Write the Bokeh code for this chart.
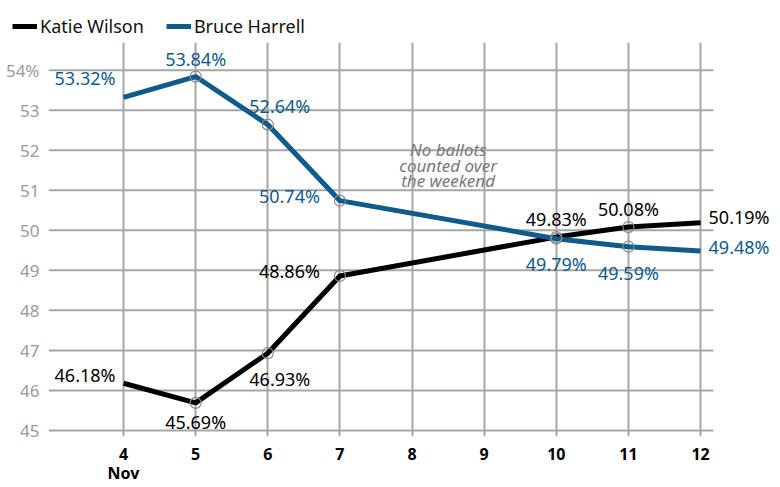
from bokeh.plotting import figure
from bokeh.layouts import column
from bokeh.models import (ColumnDataSource, Range1d, FixedTicker, Legend, LegendItem)
from bokeh.core.properties import value
from bokeh.embed import file_html
from bokeh.resources import INLINE

# ---- data ----
days = [4, 5, 6, 7, 10, 11, 12]
wilson = [46.18, 45.69, 46.93, 48.86, 49.83, 50.08, 50.19]
harrell = [53.32, 53.84, 52.64, 50.74, 49.79, 49.59, 49.48]
x_ticks = [4, 5, 6, 7, 8, 9, 10, 11, 12]
y_ticks = [45, 46, 47, 48, 49, 50, 51, 52, 53, 54]
month_label = "Nov"
names = ["Katie Wilson", "Bruce Harrell"]
note = "No ballots\ncounted over\nthe weekend"
note_pos = (8.5, 51.63)
marked = [5, 6, 7, 10, 11]

# ---- layout / label placement (style) ----
X_LO, X_GRID_HI, X_HI = 2.96, 12.18, 12.97
Y_LO, Y_HI = 44.85, 54.69
w_dx = [-8, 0, 12, -20, 0, 0, 8]
w_dy = [-8, 19, 26, -5, -18, -18, -6]
w_al = ["right", "center", "center", "right", "center", "center", "left"]
h_dx = [-8, 0, 12, -20, 0, 0, 8]
h_dy = [-19, -18, -19, -5, 25, 26, -4]
h_al = ["right", "center", "center", "right", "center", "center", "left"]

BLUE = "#0f5b8c"
GRID = "#a6a6a6"
FONT = "Noto Sans"
W = 776
LEG_H = 38

p = figure(width=W, height=449, output_backend="svg", toolbar_location=None,
           x_range=Range1d(X_LO, X_HI), y_range=Range1d(Y_LO, Y_HI),
           min_border_left=48, min_border_right=6, min_border_top=4,
           min_border_bottom=47)
p.frame_align = False
p.outline_line_color = None
p.background_fill_color = "white"

# grids
p.xgrid.grid_line_color = GRID
p.xgrid.grid_line_width = 2
p.xgrid.ticker = FixedTicker(ticks=x_ticks)
p.ygrid.grid_line_color = None
# horizontal grid lines stop just past the last day
p.segment(x0=[X_LO] * len(y_ticks), x1=[X_GRID_HI] * len(y_ticks),
          y0=y_ticks, y1=y_ticks, line_color=GRID, line_width=2)

# axes
p.xaxis.ticker = FixedTicker(ticks=x_ticks)
p.xaxis.major_label_overrides = {4: "4\n" + month_label}
p.xaxis.axis_line_color = None
p.xaxis.major_tick_line_color = None
p.xaxis.minor_tick_line_color = None
p.xaxis.major_label_text_font = FONT
p.xaxis.major_label_text_font_style = "bold"
p.xaxis.major_label_text_font_size = "16px"
p.xaxis.major_label_text_line_height = 0.9
p.xaxis.major_label_text_color = "black"
p.xaxis.major_label_standoff = 0

p.yaxis.ticker = FixedTicker(ticks=y_ticks)
p.yaxis.major_label_overrides = {54: "54%"}
p.yaxis.axis_line_color = None
p.yaxis.major_tick_line_color = None
p.yaxis.minor_tick_line_color = None
p.yaxis.major_label_text_font = FONT
p.yaxis.major_label_text_font_size = "17px"
p.yaxis.major_label_text_color = "#9a9a9a"
p.yaxis.major_label_standoff = 3

# lines
p.line(days, wilson, line_color="black", line_width=5, line_join="round")
p.line(days, harrell, line_color=BLUE, line_width=5, line_join="round")

# markers
mx = [d for d in days if d in marked]
mw = [v for d, v in zip(days, wilson) if d in marked]
mh = [v for d, v in zip(days, harrell) if d in marked]
p.scatter(mx + mx, mw + mh, size=11, fill_color=None, line_color="#8a8a8a", line_width=1.2)

# labels
def fmt(v):
    return f"{v:.2f}%"

src_w = ColumnDataSource(dict(x=days, y=wilson, t=[fmt(v) for v in wilson],
                              dx=w_dx, dy=w_dy, al=w_al))
src_h = ColumnDataSource(dict(x=days, y=harrell, t=[fmt(v) for v in harrell],
                              dx=h_dx, dy=h_dy, al=h_al))
p.text(x="x", y="y", text="t", x_offset="dx", y_offset="dy", text_align="al",
       text_baseline="middle", text_font=value(FONT), text_font_size="18px",
       text_color="black", source=src_w)
p.text(x="x", y="y", text="t", x_offset="dx", y_offset="dy", text_align="al",
       text_baseline="middle", text_font=value(FONT), text_font_size="18px",
       text_color=BLUE, source=src_h)

# annotation
p.text(x=[note_pos[0]], y=[note_pos[1]], text=[note], text_align="center",
       text_baseline="middle", text_font=value(FONT), text_font_style="italic",
       text_font_size="17px", text_color="#7a7a7a", text_line_height=0.66)

# legend strip above the chart (key lines lie outside its visible range)
lf = figure(width=W, height=LEG_H, output_backend="svg", toolbar_location=None,
            x_range=Range1d(0, 1), y_range=Range1d(0, 1),
            x_axis_location=None, y_axis_location=None, min_border=0)
lf.frame_align = False
lf.outline_line_color = None
lf.grid.grid_line_color = None
lw = lf.line([days[0], days[1]], wilson[:2], line_color="black", line_width=5)
lh = lf.line([days[0], days[1]], harrell[:2], line_color=BLUE, line_width=5)
legend = Legend(items=[LegendItem(label=names[0], renderers=[lw]),
                       LegendItem(label=names[1], renderers=[lh])],
                orientation="horizontal", location=(12, 0))
legend.label_text_font = FONT
legend.label_text_font_size = "18px"
legend.label_text_color = "#111111"
legend.glyph_width = 25
legend.glyph_height = 20
legend.label_standoff = 3
legend.spacing = 22
legend.padding = 4
legend.margin = 0
legend.border_line_color = None
legend.background_fill_alpha = 0
lf.add_layout(legend)

layout = column(lf, p, spacing=0)
open("out.html", "w").write(file_html(layout, INLINE))
